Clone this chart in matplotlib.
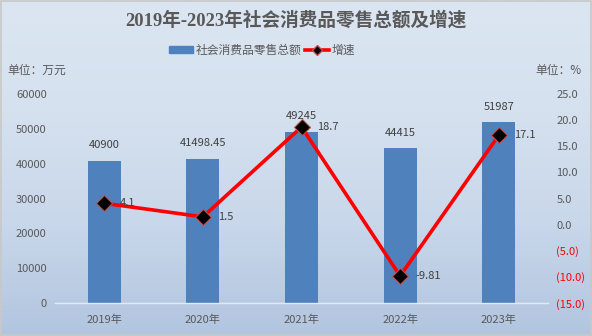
import numpy as np
import matplotlib.pyplot as plt
from matplotlib.colors import LinearSegmentedColormap
from matplotlib.ticker import FixedLocator, FuncFormatter
from matplotlib.patches import Patch, Rectangle
from matplotlib.lines import Line2D

plt.rcParams['font.family'] = ['Noto Sans CJK SC', 'DejaVu Sans']

years = ['2019年', '2020年', '2021年', '2022年', '2023年']
sales = [40900, 41498.45, 49245, 44415, 51987]
sales_labels = ['40900', '41498.45', '49245', '44415', '51987']
growth = [4.1, 1.5, 18.7, -9.81, 17.1]
growth_labels = ['4.1', '1.5', '18.7', '-9.81', '17.1']

grey = '#595959'
bar_color = '#4f81bd'

fig = plt.figure(figsize=(5.92, 3.36), dpi=100)

# fond dégradé, clair en haut, plus foncé en bas
bg = fig.add_axes([0, 0, 1, 1], zorder=-10)
cmap = LinearSegmentedColormap.from_list('bg', ['#dce6f2', '#d5e1ef', '#c8d7ea', '#b2c5df'])
bg.imshow(np.linspace(0, 1, 256).reshape(-1, 1), aspect='auto', cmap=cmap,
          extent=[0, 1, 0, 1], origin='upper')
bg.set_xlim(0, 1)
bg.set_ylim(0, 1)
bg.add_patch(Rectangle((0.001, 0.002), 0.997, 0.995, fill=False,
                       edgecolor='#c8c8c8', lw=1.2))
bg.axis('off')

ax = fig.add_axes([0.0929, 0.098, 0.8328, 0.622])
ax.patch.set_alpha(0)
x = np.arange(len(years))
ax.bar(x, sales, width=0.335, color=bar_color, zorder=2)
ax.set_xlim(-0.5, 4.5)
ax.set_ylim(0, 60000)
ax.yaxis.set_major_locator(FixedLocator(range(0, 60001, 10000)))
ax.set_xticks(x)
ax.set_xticklabels(years)
for s in ['top', 'right', 'left']:
    ax.spines[s].set_visible(False)
ax.spines['bottom'].set_color('#e3e9f2')
ax.spines['bottom'].set_linewidth(1)
ax.tick_params(axis='both', length=0, colors=grey, labelsize=8)
ax.tick_params(axis='y', pad=6)
ax.tick_params(axis='x', pad=8)
for xi, v, lab in zip(x, sales, sales_labels):
    ax.annotate(lab, (xi, v), xytext=(0, 11), textcoords='offset points',
                ha='center', va='center', fontsize=8, color='#404040')

ax2 = ax.twinx()
ax2.set_ylim(-15, 25)
ax2.yaxis.set_major_locator(FixedLocator(range(-15, 26, 5)))
ax2.yaxis.set_major_formatter(FuncFormatter(
    lambda v, p: f'({abs(v):.1f})' if v < 0 else f'{v:.1f}'))
for s in ['top', 'right', 'left', 'bottom']:
    ax2.spines[s].set_visible(False)
ax2.tick_params(axis='y', length=0, colors=grey, labelsize=8, pad=6)
for t, v in zip(ax2.get_yticklabels(), range(-15, 26, 5)):
    if v < 0:
        t.set_color('#ff0000')
ax2.plot(x, growth, color='#ff0000', lw=2.6, marker='D', markersize=8.5,
         markerfacecolor='black', markeredgecolor='#c0504d', markeredgewidth=0.8,
         zorder=3)
for xi, v, lab in zip(x, growth, growth_labels):
    ax2.annotate(lab, (xi, v), xytext=(11, 0), textcoords='offset points',
                 ha='left', va='center', fontsize=8, color='#404040')

fig.text(0.5, 0.94, '2019年-2023年社会消费品零售总额及增速', ha='center', va='center',
         fontsize=13.4, fontweight='bold', color=grey,
         family=['Liberation Serif', 'Noto Sans CJK SC'])
fig.text(0.012, 0.79, '单位：万元', ha='left', va='center', fontsize=8.5, color=grey)
fig.text(0.982, 0.79, '单位：%', ha='right', va='center', fontsize=8.5, color=grey)

handles = [Patch(color=bar_color, label='社会消费品零售总额'),
           Line2D([], [], color='#ff0000', lw=2.6, marker='D', markersize=5,
                  markerfacecolor='black', markeredgecolor='#c0504d', label='增速')]
fig.legend(handles=handles, loc='center', bbox_to_anchor=(0.443, 0.85), ncol=2,
           frameon=False, fontsize=8.5, labelcolor=grey, handlelength=2.0,
           handleheight=0.6, columnspacing=0.3, handletextpad=0.25)

fig.savefig('out.png', dpi=100)
